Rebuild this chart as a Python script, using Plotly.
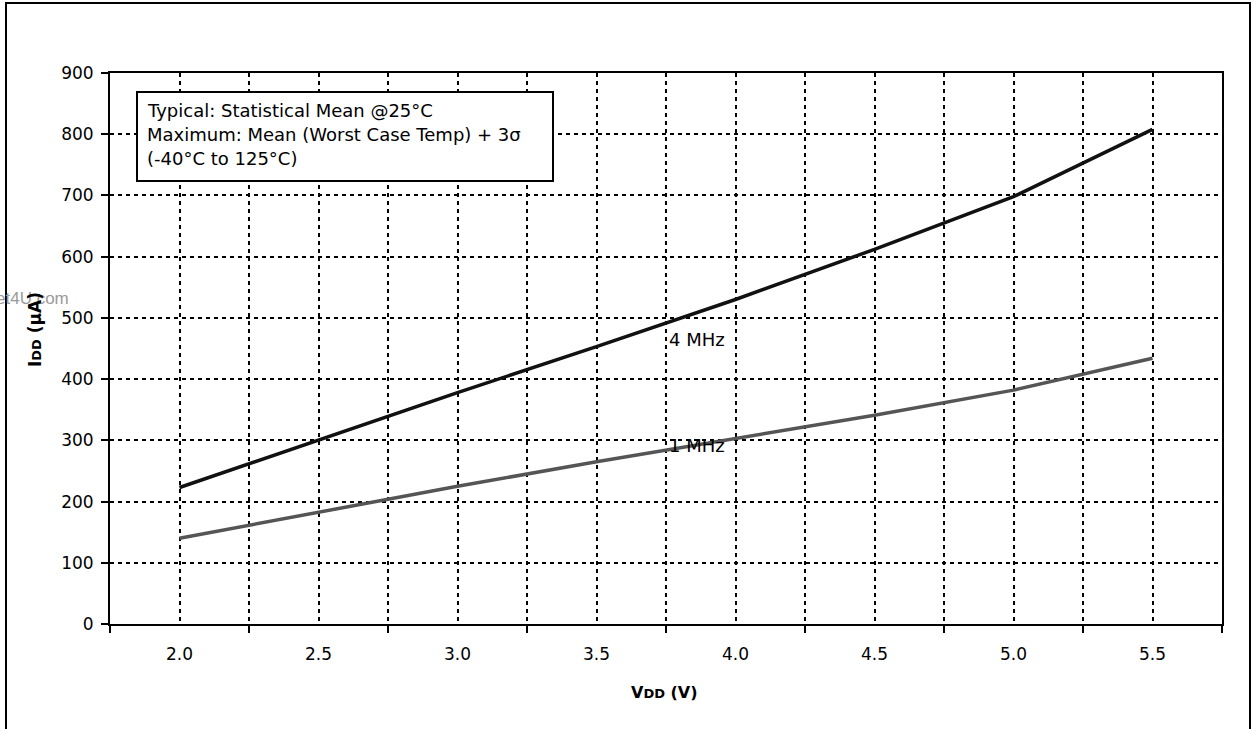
import plotly.graph_objects as go

vdd = [2.0, 2.5, 3.0, 3.5, 4.0, 4.5, 5.0, 5.5]
idd_4mhz = [223, 300, 378, 453, 530, 612, 698, 808]
idd_1mhz = [140, 183, 225, 265, 303, 341, 382, 434]
x_tick_vals = [2.0, 2.5, 3.0, 3.5, 4.0, 4.5, 5.0, 5.5]
x_tick_text = ["2.0", "2.5", "3.0", "3.5", "4.0", "4.5", "5.0", "5.5"]
x_minor_vals = [1.75, 2.25, 2.75, 3.25, 3.75, 4.25, 4.75, 5.25, 5.75]
y_tick_vals = [0, 100, 200, 300, 400, 500, 600, 700, 800, 900]

W, H = 1253, 729
L, R, T, B = 110, 31, 73, 105
PW, PH = W - L - R, H - T - B

def px(x):
    return (x - L) / PW

def py(y):
    return (H - B - y) / PH

FONT = "DejaVu Sans, Liberation Sans, Arial, sans-serif"
ARIAL = "Liberation Sans, Arial, sans-serif"

fig = go.Figure()
fig.add_trace(go.Scatter(x=vdd, y=idd_4mhz, mode="lines", name="4 MHz",
                         line=dict(color="#111111", width=3.5), showlegend=False))
fig.add_trace(go.Scatter(x=vdd, y=idd_1mhz, mode="lines", name="1 MHz",
                         line=dict(color="#555555", width=3.5), showlegend=False))

grid = dict(showgrid=True, gridcolor="black", gridwidth=2, griddash="4px,4px")

fig.update_xaxes(range=[1.75, 5.75], tickvals=x_tick_vals, ticktext=x_tick_text,
                 ticks="", ticklabelstandoff=14,
                 showline=True, linecolor="black", linewidth=2, mirror=True,
                 zeroline=False,
                 tickfont=dict(family=FONT, size=17, color="black"),
                 minor=dict(tickvals=x_minor_vals, ticks="outside", ticklen=7,
                            tickcolor="black", tickwidth=2, showgrid=True,
                            gridcolor="black", gridwidth=2, griddash="4px,4px"),
                 **grid)
fig.update_yaxes(range=[0, 900], tickvals=y_tick_vals, ticks="outside", ticklen=7,
                 tickcolor="black", tickwidth=2, ticklabelstandoff=4,
                 showline=True, linecolor="black", linewidth=2, mirror=True,
                 zeroline=False,
                 tickfont=dict(family=FONT, size=17, color="black"),
                 **grid)

shapes = [
    dict(type="rect", xref="paper", yref="paper",
         x0=px(6), x1=px(1250), y0=py(3), y1=py(760),
         line=dict(color="black", width=2), fillcolor="rgba(0,0,0,0)", layer="above"),
    dict(type="rect", xref="paper", yref="paper",
         x0=px(137), x1=px(553), y0=py(181), y1=py(92),
         line=dict(color="black", width=2), fillcolor="white", layer="above"),
]

box_lines = ["Typical: Statistical Mean @25°C",
             "Maximum: Mean (Worst Case Temp) + 3σ",
             "(-40°C to 125°C)"]
box_ys = [110, 134, 158]

annotations = [
    dict(text="et4U.com", xref="paper", yref="paper", x=px(71), y=py(298),
         xanchor="right", yanchor="middle", showarrow=False,
         font=dict(family=ARIAL, size=17, color="#9a9a9a")),
]
for txt, yy in zip(box_lines, box_ys):
    annotations.append(dict(text=txt, xref="paper", yref="paper", x=px(145), y=py(yy),
                            xanchor="left", yanchor="middle", showarrow=False,
                            font=dict(family=FONT, size=18, color="black")))

annotations += [
    dict(text="4 MHz", xref="paper", yref="paper", x=px(667), y=py(339),
         xanchor="left", yanchor="middle", showarrow=False,
         font=dict(family=FONT, size=18, color="black")),
    dict(text="1 MHz", xref="paper", yref="paper", x=px(667), y=py(445),
         xanchor="left", yanchor="middle", showarrow=False,
         font=dict(family=FONT, size=18, color="black")),
    dict(text="<b>I<span style='font-size:13px'>DD</span> (μA)</b>", xref="paper", yref="paper",
         x=px(35), y=py(330), xanchor="center", yanchor="middle", textangle=-90,
         showarrow=False, font=dict(family=FONT, size=17, color="black")),
    dict(text="<b>V<span style='font-size:13px'>DD</span> (V)</b>", xref="paper", yref="paper",
         x=px(664), y=py(692), xanchor="center", yanchor="middle",
         showarrow=False, font=dict(family=FONT, size=16, color="black")),
]

fig.update_layout(width=W, height=H, margin=dict(l=L, r=R, t=T, b=B),
                  paper_bgcolor="white", plot_bgcolor="white",
                  shapes=shapes, annotations=annotations, showlegend=False)

fig.write_html("out.html", config={"displayModeBar": False},
               post_script="document.body.style.margin='0';")
